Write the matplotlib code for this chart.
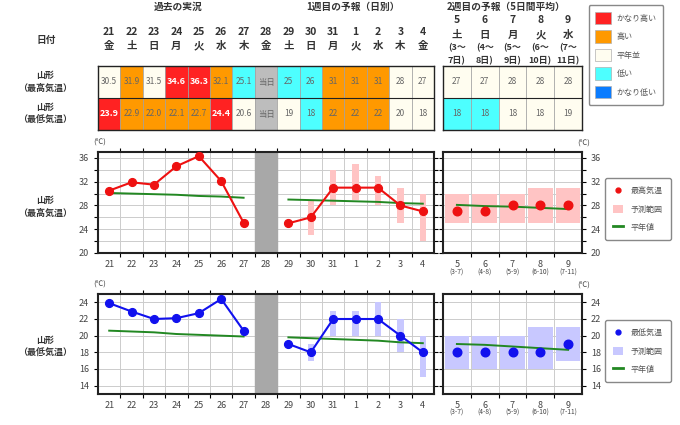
import numpy as np
import matplotlib
matplotlib.use('Agg')
from matplotlib import pyplot as plt
from matplotlib.patches import Patch
from matplotlib.lines import Line2D

plt.rcParams['font.family'] = ['Noto Sans CJK JP', 'DejaVu Sans']

# --- data ---
days1 = ['21', '22', '23', '24', '25', '26', '27', '28', '29', '30', '31', '1', '2', '3', '4']
wdays1 = ['金', '土', '日', '月', '火', '水', '木', '金', '土', '日', '月', '火', '水', '木', '金']
days2 = ['5', '6', '7', '8', '9']
wdays2 = ['土', '日', '月', '火', '水']
spans2_a = ['(3～', '(4～', '(5～', '(6～', '(7～']
spans2_b = ['7日)', '8日)', '9日)', '10日)', '11日)']
span_ticks = ['(3-7)', '(4-8)', '(5-9)', '(6-10)', '(7-11)']

hi_table1 = ['30.5', '31.9', '31.5', '34.6', '36.3', '32.1', '25.1', '当日', '25', '26', '31', '31', '31', '28', '27']
hi_class1 = ['n', 'h', 'n', 'vh', 'vh', 'h', 'l', 't', 'l', 'l', 'h', 'h', 'h', 'n', 'n']
lo_table1 = ['23.9', '22.9', '22.0', '22.1', '22.7', '24.4', '20.6', '当日', '19', '18', '22', '22', '22', '20', '18']
lo_class1 = ['vh', 'h', 'h', 'h', 'h', 'vh', 'n', 't', 'n', 'l', 'h', 'h', 'h', 'n', 'n']
hi_table2 = ['27', '27', '28', '28', '28']
hi_class2 = ['n', 'n', 'n', 'n', 'n']
lo_table2 = ['18', '18', '18', '18', '19']
lo_class2 = ['l', 'l', 'n', 'n', 'n']

class_names = ['かなり高い', '高い', '平年並', '低い', 'かなり低い']
class_keys = ['vh', 'h', 'n', 'l', 'vl']
class_colors = {'vh': '#ff2222', 'h': '#ff9900', 'n': '#fffdf0', 'l': '#4dffff',
                'vl': '#0a7cff', 't': '#bdbdbd'}

hi_obs = [30.5, 31.9, 31.5, 34.6, 36.3, 32.1, 25.1]
hi_fc = [25, 26, 31, 31, 31, 28, 27]
hi_fc_lo = [np.nan, 23, 28, 29, 28, 25, 22]
hi_fc_hi = [np.nan, 29, 34, 35, 33, 31, 30]
hi_norm_obs = [30.1, 30.0, 29.9, 29.8, 29.6, 29.5, 29.3]
hi_norm_fc = [29.0, 28.9, 28.8, 28.7, 28.6, 28.4, 28.3]
hi_w2 = [27, 27, 28, 28, 28]
hi_w2_lo = [25, 25, 25, 25, 25]
hi_w2_hi = [30, 30, 30, 31, 31]
hi_norm_w2 = [28.1, 27.9, 27.8, 27.6, 27.4]

lo_obs = [23.9, 22.9, 22.0, 22.1, 22.7, 24.4, 20.6]
lo_fc = [19, 18, 22, 22, 22, 20, 18]
lo_fc_lo = [np.nan, 17, 20, 20, 20, 18, 15]
lo_fc_hi = [np.nan, 19, 23, 23, 24, 22, 20]
lo_norm_obs = [20.6, 20.5, 20.4, 20.2, 20.1, 20.0, 19.9]
lo_norm_fc = [19.8, 19.7, 19.6, 19.5, 19.4, 19.2, 19.1]
lo_w2 = [18, 18, 18, 18, 19]
lo_w2_lo = [16, 16, 16, 16, 17]
lo_w2_hi = [20, 20, 20, 21, 21]
lo_norm_w2 = [19.0, 18.9, 18.7, 18.5, 18.3]

W, H = 680, 425
fig = plt.figure(figsize=(W / 100, H / 100), dpi=100)
TXT = '#333333'


def px_axes(x0, y0, x1, y1):
    return fig.add_axes([x0 / W, 1 - y1 / H, (x1 - x0) / W, (y1 - y0) / H])


def ftext(x, y, s, **kw):
    kw.setdefault('color', TXT)
    kw.setdefault('ha', 'center')
    kw.setdefault('va', 'center')
    fig.text(x / W, 1 - y / H, s, **kw)


# --- header texts ---
ftext(178, 7, '過去の実況', fontsize=7, weight='bold')
ftext(353, 7, '1週目の予報（日別）', fontsize=7, weight='bold')
ftext(506, 7, '2週目の予報（5日間平均）', fontsize=7, weight='bold')
ftext(46, 40, '日付', fontsize=7, weight='bold')
ftext(45, 82, '山形\n（最高気温）', fontsize=6.5, weight='bold', linespacing=1.5)
ftext(45, 114, '山形\n（最低気温）', fontsize=6.5, weight='bold', linespacing=1.5)
ftext(45, 207, '山形\n（最高気温）', fontsize=6.5, weight='bold', linespacing=1.5)
ftext(45, 347, '山形\n（最低気温）', fontsize=6.5, weight='bold', linespacing=1.5)


def draw_table(ax, hi_vals, hi_cls, lo_vals, lo_cls):
    n = len(hi_vals)
    x = np.arange(n)
    for row, vals, cls in [(1, hi_vals, hi_cls), (0, lo_vals, lo_cls)]:
        ax.bar(x, 1, bottom=row, width=1, color=[class_colors[c] for c in cls],
               edgecolor='#a0a0a0', linewidth=0.5)
        for i, (v, c) in enumerate(zip(vals, cls)):
            if c == 'vh':
                ax.text(i, row + 0.5, v, ha='center', va='center', fontsize=6.5,
                        color='white', weight='bold')
            else:
                ax.text(i, row + 0.5, v, ha='center', va='center', fontsize=6,
                        color='#666666')
    ax.axhline(1, color='#222222', lw=0.8)
    ax.set_xlim(-0.5, n - 0.5)
    ax.set_ylim(0, 2)
    ax.set_xticks([])
    ax.set_yticks([])
    for s in ax.spines.values():
        s.set_linewidth(1.0)
        s.set_color('#222222')


t1 = px_axes(98, 66, 434, 130)
draw_table(t1, hi_table1, hi_class1, lo_table1, lo_class1)
for i, (d, w) in enumerate(zip(days1, wdays1)):
    t1.text(i, 2 + 34 / 32, d, ha='center', va='center', fontsize=7.5, weight='bold',
            color=TXT, clip_on=False)
    t1.text(i, 2 + 20 / 32, w, ha='center', va='center', fontsize=7.5, weight='bold',
            color=TXT, clip_on=False)

t2 = px_axes(443, 66, 582, 130)
draw_table(t2, hi_table2, hi_class2, lo_table2, lo_class2)
for i, (d, w, a, b) in enumerate(zip(days2, wdays2, spans2_a, spans2_b)):
    t2.text(i, 2 + 46 / 32, d, ha='center', va='center', fontsize=7.5, weight='bold',
            color=TXT, clip_on=False)
    t2.text(i, 2 + 31 / 32, w, ha='center', va='center', fontsize=7.5, weight='bold',
            color=TXT, clip_on=False)
    t2.text(i, 2 + 18 / 32, a, ha='center', va='center', fontsize=6.5, weight='bold',
            color=TXT, clip_on=False)
    t2.text(i, 2 + 5 / 32, b, ha='center', va='center', fontsize=6.5, weight='bold',
            color=TXT, clip_on=False)

fig.legend([Patch(facecolor=class_colors[k], edgecolor='#b0b0b0', linewidth=0.5)
            for k in class_keys], class_names,
           loc='center', bbox_to_anchor=(626 / W, 1 - 55 / H), fontsize=5.8,
           handlelength=2.0, handleheight=2.0, labelspacing=0.75, handletextpad=0.7,
           borderpad=0.8, fancybox=True, edgecolor='#888888', framealpha=1,
           labelcolor='#555555')


def style_axes(ax, n, ymin, ymax, major, minor, right=False):
    ax.set_xlim(-0.5, n - 0.5)
    ax.set_ylim(ymin, ymax)
    ax.set_xticks(np.arange(n))
    ax.set_xticks(np.arange(n - 1) + 0.5, minor=True)
    ax.set_yticks(np.arange(ymin if ymin % major == 0 else ymin + 1, ymax + 0.1, major))
    if minor:
        ax.set_yticks(np.arange(ymin + minor, ymax, minor), minor=True)
    ax.grid(True, which='minor', axis='x', color='#cccccc', lw=0.7)
    ax.grid(True, which='both', axis='y', color='#cccccc', lw=0.7)
    ax.set_axisbelow(True)
    ax.tick_params(axis='x', which='major', length=0, labelsize=6.5, labelcolor='#444444', pad=5)
    ax.tick_params(axis='x', which='minor', length=3, top=True, direction='out', width=0.8)
    ax.tick_params(axis='y', which='both', length=3, width=0.8, direction='out',
                   left=True, right=True, labelsize=6.5, labelcolor='#444444',
                   labelleft=not right, labelright=right)
    for s in ax.spines.values():
        s.set_linewidth(1.5)
        s.set_color('#222222')


def draw_chart(y0, y1, ymin, ymax, major, minor, obs, fc, fc_lo, fc_hi, norm_obs, norm_fc,
               w2, w2_lo, w2_hi, norm_w2, color, rng_color, name):
    a1 = px_axes(98, y0, 434, y1)
    style_axes(a1, 15, ymin, ymax, major, minor)
    a1.set_xticklabels(days1)
    a1.axvspan(6.5, 7.5, color='#a8a8a8', zorder=1)
    xo = np.arange(7)
    xf = np.arange(8, 15)
    a1.bar(xf, np.array(fc_hi) - np.array(fc_lo), bottom=fc_lo, width=0.28,
           color=rng_color, zorder=2)
    a1.plot(xo, norm_obs, color='#228822', lw=1.4, zorder=3)
    a1.plot(xf, norm_fc, color='#228822', lw=1.4, zorder=3)
    a1.plot(xo, obs, color=color, lw=1.5, marker='o', ms=5.6, zorder=4)
    a1.plot(xf, fc, color=color, lw=1.5, marker='o', ms=5.6, zorder=4)

    a2 = px_axes(443, y0, 582, y1)
    style_axes(a2, 5, ymin, ymax, major, minor, right=True)
    a2.set_xticklabels(days2)
    x2 = np.arange(5)
    a2.bar(x2, np.array(w2_hi) - np.array(w2_lo), bottom=w2_lo, width=0.88,
           color=rng_color, zorder=2)
    a2.plot(x2, norm_w2, color='#228822', lw=1.4, zorder=3)
    a2.plot(x2, w2, color=color, lw=0, marker='o', ms=6.2, zorder=4)
    for i, s in enumerate(span_ticks):
        a2.text(i, -0.19, s, transform=a2.get_xaxis_transform(), ha='center',
                va='center', fontsize=4.8, color='#444444')

    ftext(100, y0 - 9, '(℃)', fontsize=5.5, color='#444444')
    ftext(584, y0 - 8, '(℃)', fontsize=5.5, color='#444444')

    handles = [Line2D([], [], marker='o', color=color, lw=0, ms=3.5),
               Patch(facecolor=rng_color),
               Line2D([], [], color='#228822', lw=2)]
    fig.legend(handles, [name, '予測範囲', '平年値'], loc='center',
               bbox_to_anchor=(638 / W, 1 - (y0 + 57) / H), fontsize=5.8,
               handlelength=1.2, handleheight=1.2, labelspacing=1.15, handletextpad=1.0,
               borderpad=1.0, borderaxespad=0, fancybox=True, edgecolor='#888888',
               framealpha=1, labelcolor='#555555')


draw_chart(152, 253, 20, 37, 4, 2, hi_obs, hi_fc, hi_fc_lo, hi_fc_hi, hi_norm_obs,
           hi_norm_fc, hi_w2, hi_w2_lo, hi_w2_hi, hi_norm_w2, '#ee1111', '#ffc4c4', '最高気温')
draw_chart(294, 394, 13, 25, 2, 0, lo_obs, lo_fc, lo_fc_lo, lo_fc_hi, lo_norm_obs,
           lo_norm_fc, lo_w2, lo_w2_lo, lo_w2_hi, lo_norm_w2, '#1111ee', '#c8c8ff', '最低気温')

fig.savefig('out.png', dpi=100, facecolor='white')
